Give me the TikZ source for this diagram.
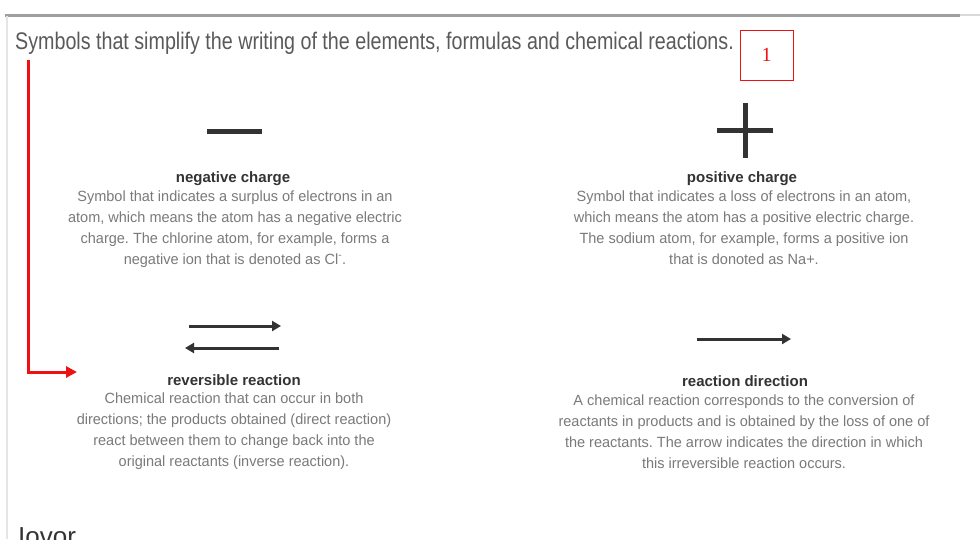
\documentclass[tikz,border=0pt]{standalone}
\usepackage{fontspec}
\setmainfont{Liberation Sans}
\newfontfamily\narrowfont[FakeStretch=0.98]{Liberation Sans}
\newfontfamily\titlefont[FakeStretch=0.82]{Liberation Sans}
\usetikzlibrary{arrows.meta}
\definecolor{ink}{HTML}{333333}
\definecolor{desc}{HTML}{7A7A7A}
\definecolor{titlegray}{HTML}{5A5A5A}
\definecolor{markred}{HTML}{EE1111}
\tikzset{
  symline/.style={line width=5pt, ink},
  rxnarrow/.style={line width=3pt, ink, -{Triangle[length=9pt,width=10pt]}},
  headbox/.style={font=\bfseries\fontsize{15}{17}\selectfont, text=ink, inner sep=0pt},
  descbox/.style={font=\narrowfont\fontsize{14.8}{20.7}\selectfont\frenchspacing, text=desc, align=center, inner sep=0pt, anchor=north},
  redarrow/.style={line width=3pt, draw=markred, -{Triangle[length=11pt,width=11pt]}},
}
\begin{document}
\begin{tikzpicture}[x=1pt,y=-1pt]
\useasboundingbox (0,0) rectangle (980,539);
\fill[white] (0,0) rectangle (980,539);
% frame lines
\draw[line width=3pt, gray!75] (5,15) -- (960,15);
\draw[line width=2pt, gray!30] (960,15) -- (980,15);
\draw[line width=1.5pt, gray!20] (7,16) -- (7,539);
% title
\node[anchor=base west, inner sep=0pt, font=\titlefont\fontsize{24}{27}\selectfont, text=titlegray] (title) at (15,49) {Symbols that simplify the writing of the elements, formulas and chemical reactions.};
% red number box
\node[draw=markred, line width=0.8pt, minimum width=53pt, minimum height=50pt, inner sep=0pt, text=markred, font=\fontspec{Liberation Serif}\fontsize{20}{22}\selectfont] (num) at (766.5,55) {1};
% red arrow
\coordinate (r1) at (28,60);
\coordinate (r2) at (28,372);
\coordinate (r3) at (77,372);
\draw[redarrow] (r1) -- (r2) -- (r3);
% minus
\coordinate (m1) at (207,131);
\coordinate (m2) at (262,131);
\draw[symline] (m1) -- (m2);
% plus
\coordinate (p1) at (717,130);
\coordinate (p2) at (773,130);
\coordinate (p3) at (745,103);
\coordinate (p4) at (745,158);
\draw[symline] (p1) -- (p2);
\draw[symline] (p3) -- (p4);
% reversible arrows
\coordinate (ra1) at (189,326);
\coordinate (ra2) at (281,326);
\coordinate (rb1) at (279,348);
\coordinate (rb2) at (185,348);
\draw[rxnarrow] (ra1) -- (ra2);
\draw[rxnarrow] (rb1) -- (rb2);
% forward arrow
\coordinate (f1) at (697,339);
\coordinate (f2) at (791,339);
\draw[rxnarrow] (f1) -- (f2);
% headings
\node[headbox] (hneg) at (233,179) {negative charge};
\node[headbox] (hpos) at (742,179) {positive charge};
\node[headbox] (hrev) at (234,380) {reversible reaction};
\node[headbox] (hdir) at (745,381) {reaction direction};
% descriptions
\node[descbox] (dneg) at (235,191) {Symbol that indicates a surplus of electrons in an\\atom, which means the atom has a negative electric\\charge. The chlorine atom, for example, forms a\\negative ion that is denoted as Cl\textsuperscript{-}.};
\node[descbox] (dpos) at (744,191) {Symbol that indicates a loss of electrons in an atom,\\which means the atom has a positive electric charge.\\The sodium atom, for example, forms a positive ion\\that is donoted as Na+.};
\node[descbox] (drev) at (234,393) {Chemical reaction that can occur in both\\directions; the products obtained (direct reaction)\\react between them to change back into the\\original reactants (inverse reaction).};
\node[descbox] (ddir) at (744,395) {A chemical reaction corresponds to the conversion of\\reactants in products and is obtained by the loss of one of\\the reactants. The arrow indicates the direction in which\\this irreversible reaction occurs.};
% cut-off text at bottom
\begin{scope}
\clip (0,0) rectangle (980,539);
\node[anchor=base west, inner sep=0pt, font=\fontsize{26}{28}\selectfont, text=ink] (cut) at (18,545) {Iovor};
\end{scope}
\end{tikzpicture}
\end{document}
